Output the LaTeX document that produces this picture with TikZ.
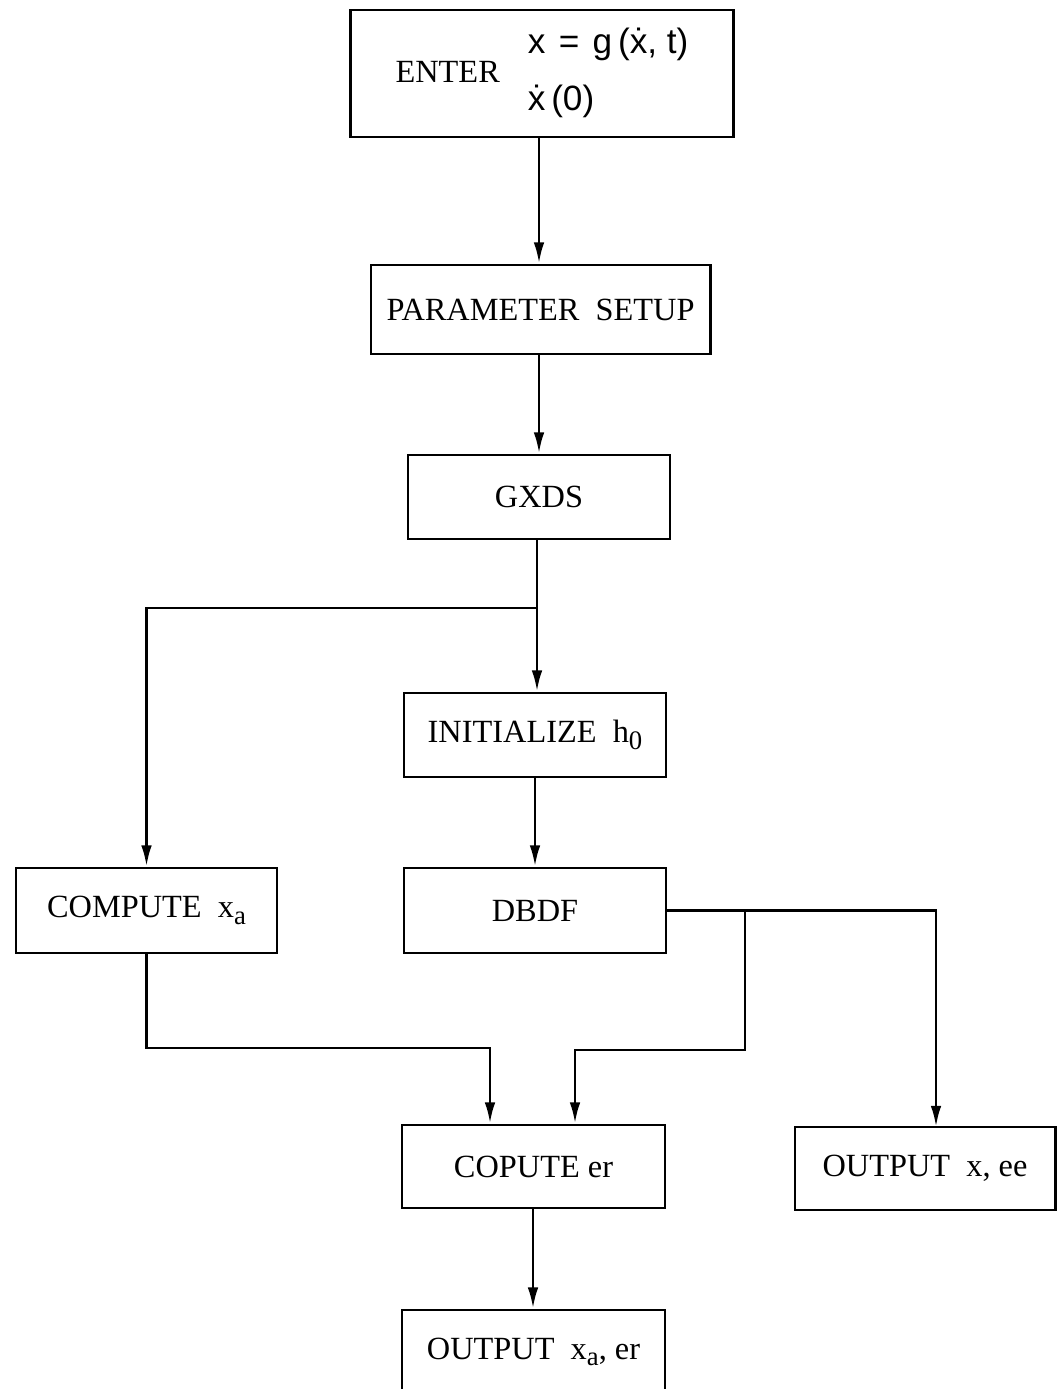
\documentclass[tikz,border=0pt]{standalone}
\usepackage{fontspec}
\setmainfont{Liberation Serif}
\setsansfont{Liberation Sans}
\usetikzlibrary{arrows.meta}
\newcommand{\subidx}[1]{\raisebox{-.45ex}{\fontsize{7.6}{9}\selectfont #1}}

\begin{document}
\begin{tikzpicture}[>={Latex[length=6pt,width=3pt]},x=.01cm,y=-.01cm,
  box/.style={draw,line width=.8pt,inner sep=0pt,font=\fontsize{9.2}{11}\selectfont},
  flow/.style={line width=.8pt,->}]
\useasboundingbox (0,0) rectangle (1057,1389);
\node[box,minimum width=3.82cm,minimum height=1.27cm] (enter) at (542,73.5){ENTER\hspace{.28cm}{\sffamily\fontsize{10}{12}\selectfont\begin{tabular}{@{}l@{}}x\hspace{.38em}=\hspace{.38em}g\,(\.x, t)\\[4pt] \.x\,(0)\end{tabular}}};
\node[box,minimum width=3.39cm,minimum height=.89cm] (param) at (540.5,309.5){PARAMETER\ \ SETUP};
\node[box,minimum width=2.62cm,minimum height=.84cm] (gxds) at (539,497){GXDS};
\node[box,minimum width=2.62cm,minimum height=.84cm] (init) at (535,735){INITIALIZE\ \ h\subidx{0}};
\node[box,minimum width=2.62cm,minimum height=.85cm] (dbdf) at (535,910.5){DBDF};
\node[box,minimum width=2.61cm,minimum height=.85cm] (compxa) at (146.5,910.5){COMPUTE\ \ x\subidx{a}};
\node[box,minimum width=2.63cm,minimum height=.83cm] (coper) at (533.5,1166.5){COPUTE er};
\node[box,minimum width=2.60cm,minimum height=.83cm] (outxee) at (925,1168.5){OUTPUT\ \ x, ee};
\node[box,minimum width=2.63cm,minimum height=.84cm] (outxaer) at (533.5,1352){OUTPUT\ \ x\subidx{a}, er};
\coordinate (split) at (537,608);
\coordinate (branch) at (745,911);
\coordinate (mergeL) at (490,1048);
\coordinate (mergeR) at (575,1050);
\coordinate (drop) at (936,1127);
\draw[flow] (enter.south -| 539,0) -- (param.north -| 539,0);
\draw[flow] (param.south -| 539,0) -- (gxds.north -| 539,0);
\draw[flow] (gxds.south -| split) -- (init.north -| split);
\draw[flow] (split) -| (compxa);
\draw[flow] (init) -- (dbdf);
\draw[flow] (dbdf) -| (drop);
\draw[flow] (branch) |- (mergeR) -- (mergeR |- coper.north);
\draw[flow] (compxa) |- (mergeL) -- (mergeL |- coper.north);
\draw[flow] (coper.south -| 533,0) -- (outxaer.north -| 533,0);
\end{tikzpicture}
\end{document}
